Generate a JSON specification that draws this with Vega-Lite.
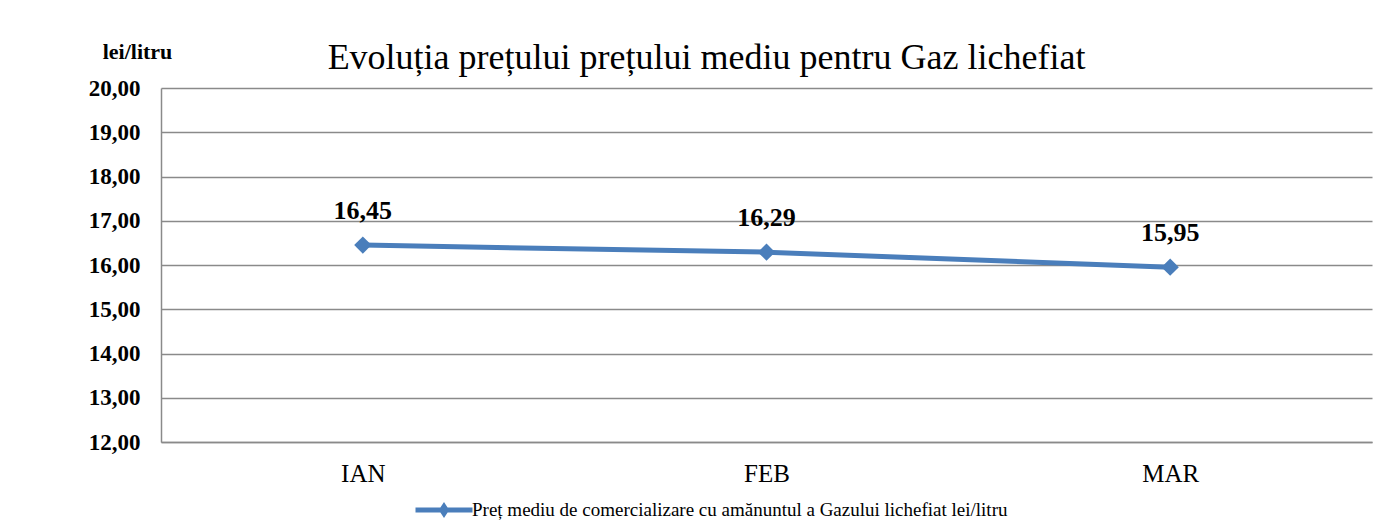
{
  "$schema": "https://vega.github.io/schema/vega-lite/v6.json",
  "width": 1211,
  "height": 354,
  "autosize": {"type": "none"},
  "padding": {"left": 161, "top": 88, "right": 20, "bottom": 89},
  "background": "white",
  "title": {
    "text": "Evoluția prețului prețului mediu pentru Gaz lichefiat",
    "font": "Liberation Serif",
    "fontSize": 36,
    "fontWeight": "normal",
    "color": "black",
    "anchor": "middle",
    "frame": "group",
    "baseline": "alphabetic",
    "dx": -60,
    "offset": -65
  },
  "data": {
    "values": [
      {"luna": "IAN", "pret": 16.45, "serie": "Preț mediu de comercializare cu amănuntul a Gazului lichefiat lei/litru"},
      {"luna": "FEB", "pret": 16.29, "serie": "Preț mediu de comercializare cu amănuntul a Gazului lichefiat lei/litru"},
      {"luna": "MAR", "pret": 15.95, "serie": "Preț mediu de comercializare cu amănuntul a Gazului lichefiat lei/litru"}
    ]
  },
  "encoding": {
    "x": {
      "field": "luna",
      "type": "ordinal",
      "sort": ["IAN", "FEB", "MAR"],
      "scale": {"type": "point", "padding": 0.5},
      "axis": {
        "title": null,
        "labelAngle": 0,
        "labelFont": "Liberation Serif",
        "labelFontSize": 25,
        "labelColor": "black",
        "labelBaseline": "alphabetic",
        "labelPadding": 39,
        "ticks": false,
        "tickSize": 0,
        "domain": true,
        "domainColor": "#8A8A8A",
        "domainWidth": 1.5,
        "grid": false
      }
    },
    "y": {
      "field": "pret",
      "type": "quantitative",
      "scale": {"domain": [12, 20], "nice": false, "zero": false},
      "axis": {
        "values": [12, 13, 14, 15, 16, 17, 18, 19, 20],
        "format": ".2f",
        "title": "lei/litru",
        "titleAngle": 0,
        "titleFont": "Liberation Serif",
        "titleFontSize": 22,
        "titleFontWeight": "bold",
        "titleColor": "black",
        "titleAlign": "center",
        "titleBaseline": "alphabetic",
        "titleX": -24,
        "titleY": -30,
        "labelFont": "Liberation Serif",
        "labelFontSize": 23,
        "labelFontWeight": "bold",
        "labelColor": "black",
        "labelPadding": 21,
        "ticks": false,
        "tickSize": 0,
        "domain": true,
        "domainColor": "#8A8A8A",
        "domainWidth": 1.5,
        "grid": true,
        "gridColor": "#8A8A8A",
        "gridWidth": 1.5
      }
    }
  },
  "layer": [
    {
      "mark": {"type": "line", "strokeWidth": 5},
      "encoding": {
        "color": {
          "field": "serie",
          "type": "nominal",
          "scale": {"range": ["#4A7EBB"]},
          "legend": {
            "title": null,
            "orient": "none",
            "legendX": 252,
            "legendY": 391,
            "symbolType": "M-1,0H1M0,-0.12L0.08,0L0,0.12L-0.08,0Z",
            "symbolSize": 3249,
            "symbolStrokeWidth": 5,
            "symbolStrokeColor": "#4A7EBB",
            "symbolFillColor": "#4A7EBB",
            "labelFont": "Liberation Serif",
            "labelFontSize": 19,
            "labelColor": "black",
            "labelOffset": -3,
            "labelLimit": 1000,
            "padding": 0
          }
        }
      }
    },
    {
      "mark": {"type": "point", "shape": "diamond", "filled": true, "size": 300, "opacity": 1, "color": "#4A7EBB"}
    },
    {
      "mark": {"type": "text", "font": "Liberation Serif", "fontSize": 26, "fontWeight": "bold", "color": "black", "baseline": "alphabetic", "dy": -26},
      "encoding": {
        "text": {"field": "pret", "type": "quantitative", "format": ".2f"}
      }
    }
  ],
  "config": {
    "view": {"stroke": null},
    "locale": {
      "number": {"decimal": ",", "thousands": ".", "grouping": [3], "currency": ["", " lei"]}
    }
  }
}
